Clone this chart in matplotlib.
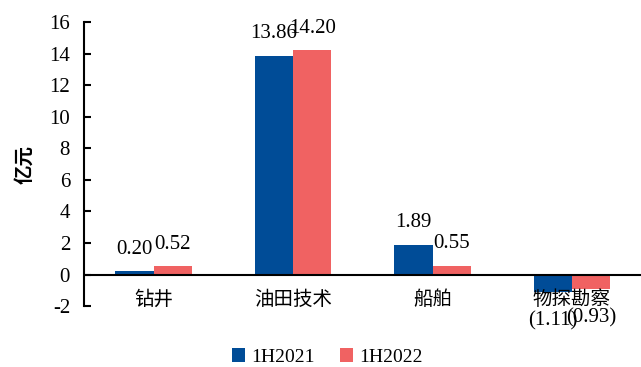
import matplotlib.pyplot as plt
import numpy as np

plt.rcParams['font.family'] = ['Liberation Serif', 'Noto Sans CJK SC']
plt.rcParams['axes.unicode_minus'] = False

categories = ['钻井', '油田技术', '船舶', '物探勘察']
series_names = ['1H2021', '1H2022']
h1_2021 = [0.20, 13.86, 1.89, -1.11]
h1_2022 = [0.52, 14.20, 0.55, -0.93]
colors = ['#004C97', '#F06262']


def fmt(v):
    # negative values are shown in accounting style
    return '(%.2f)' % abs(v) if v < 0 else '%.2f' % v


fig = plt.figure(figsize=(6.41, 3.67), dpi=100)
ax = fig.add_axes([0.131, 0.166, 0.87, 0.774])

x = np.arange(len(categories))
w = 0.275
for k, (vals, name) in enumerate(zip([h1_2021, h1_2022], series_names)):
    pos = x + (k - 0.5) * w
    ax.bar(pos, vals, width=w, color=colors[k], label=name, zorder=2)
    for p, v in zip(pos, vals):
        if v >= 0:
            ax.text(p, v + 0.8, fmt(v), ha='center', va='bottom', fontsize=15)
        else:
            ax.text(p, v - 1.2, fmt(v), ha='center', va='top', fontsize=15)

ax.set_xlim(-0.5, 3.5)
ax.set_ylim(-2, 16)
ax.set_yticks(range(-2, 17, 2))
ax.tick_params(axis='y', direction='in', length=5, width=1.5, labelsize=15, pad=10)
ax.set_xticks([])
for i, c in enumerate(categories):
    ax.text(i, -0.9, c, ha='center', va='top', fontsize=14,
            family='Noto Sans CJK SC', zorder=3)
ax.axhline(0, color='black', lw=1.5, zorder=3)

for s in ['top', 'right', 'bottom']:
    ax.spines[s].set_visible(False)
ax.spines['left'].set_linewidth(1.5)

ax.set_ylabel('亿元', family='Noto Sans CJK SC', fontsize=14, fontweight='bold',
              labelpad=11)

ax.legend(loc='center', bbox_to_anchor=(0.436, -0.18), ncol=2, frameon=False,
          fontsize=14, handlelength=0.7, handleheight=0.7, handletextpad=0.3,
          columnspacing=1.3)

fig.savefig('out.png', dpi=100)
